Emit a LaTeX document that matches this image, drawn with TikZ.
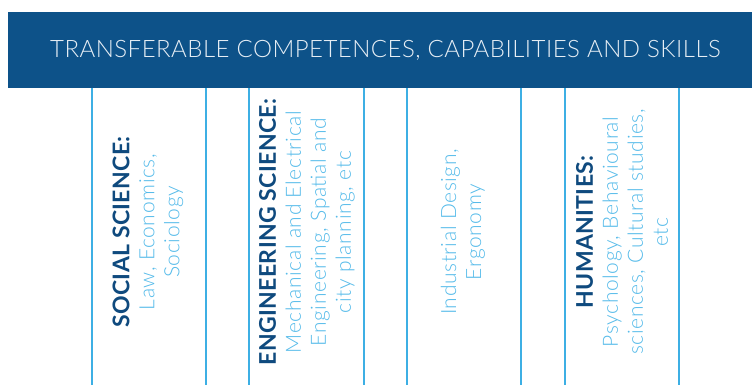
\documentclass[tikz,border=0pt]{standalone}
\usepackage{fontspec}
\setmainfont{Lato}
\newfontfamily\lightfont{Lato Light}[LetterSpace=3]
\newfontfamily\titlefont{Lato Light}[LetterSpace=2]
\newfontfamily\heavyfont{Lato}[UprightFont={* Bold}, LetterSpace=1.5]
\definecolor{bannerblue}{HTML}{0D5289}
\definecolor{headblue}{HTML}{0F4A7E}
\definecolor{skyline}{HTML}{3DAFE4}
\definecolor{skytext}{HTML}{55BBEA}
\definecolor{titlewhite}{HTML}{E6EEF5}
\tikzset{
  divider/.style={draw=skyline, line width=1.4pt},
  fieldtext/.style={rotate=90, anchor=center, align=center, inner sep=0pt,
    text=skytext, font=\lightfont\fontsize{21}{25}\selectfont}
}
\newcommand{\fieldhd}[1]{{\heavyfont\color{headblue}\fontsize{23}{25}\selectfont #1}}
\begin{document}
\begin{tikzpicture}[x=1pt,y=-1pt]
\useasboundingbox (0,0) rectangle (752,385);
\fill[white] (0,0) rectangle (752,385);
\node[fill=bannerblue, minimum width=744pt, minimum height=76pt, inner sep=0pt, anchor=north west] (banner) at (8,12) {};
\node[anchor=base, inner sep=0pt, text=titlewhite, font=\titlefont\fontsize{24}{27}\selectfont] (title) at (385.5,58) {TRANSFERABLE COMPETENCES, CAPABILITIES AND SKILLS};
\foreach \x [count=\i] in {92,206,249,364,407,521,565,679} {
  \coordinate (top\i) at (\x,88);
  \coordinate (bot\i) at (\x,385);
  \draw[divider] (top\i) -- (bot\i);
}
\node[fieldtext] (social) at (148,232) {\fieldhd{SOCIAL SCIENCE:}\\Law, Economics,\\Sociology};
\node[fieldtext] (engineering) at (307,232) {\fieldhd{ENGINEERING SCIENCE:}\\Mechanical and Electrical\\Engineering, Spatial and\\city planning, etc};
\node[fieldtext] (design) at (463,232) {Industrial Design,\\Ergonomy};
\node[fieldtext] (humanities) at (622,232) {\fieldhd{HUMANITIES:}\\Psychology, Behavioural\\sciences, Cultural studies,\\etc};
\end{tikzpicture}
\end{document}
